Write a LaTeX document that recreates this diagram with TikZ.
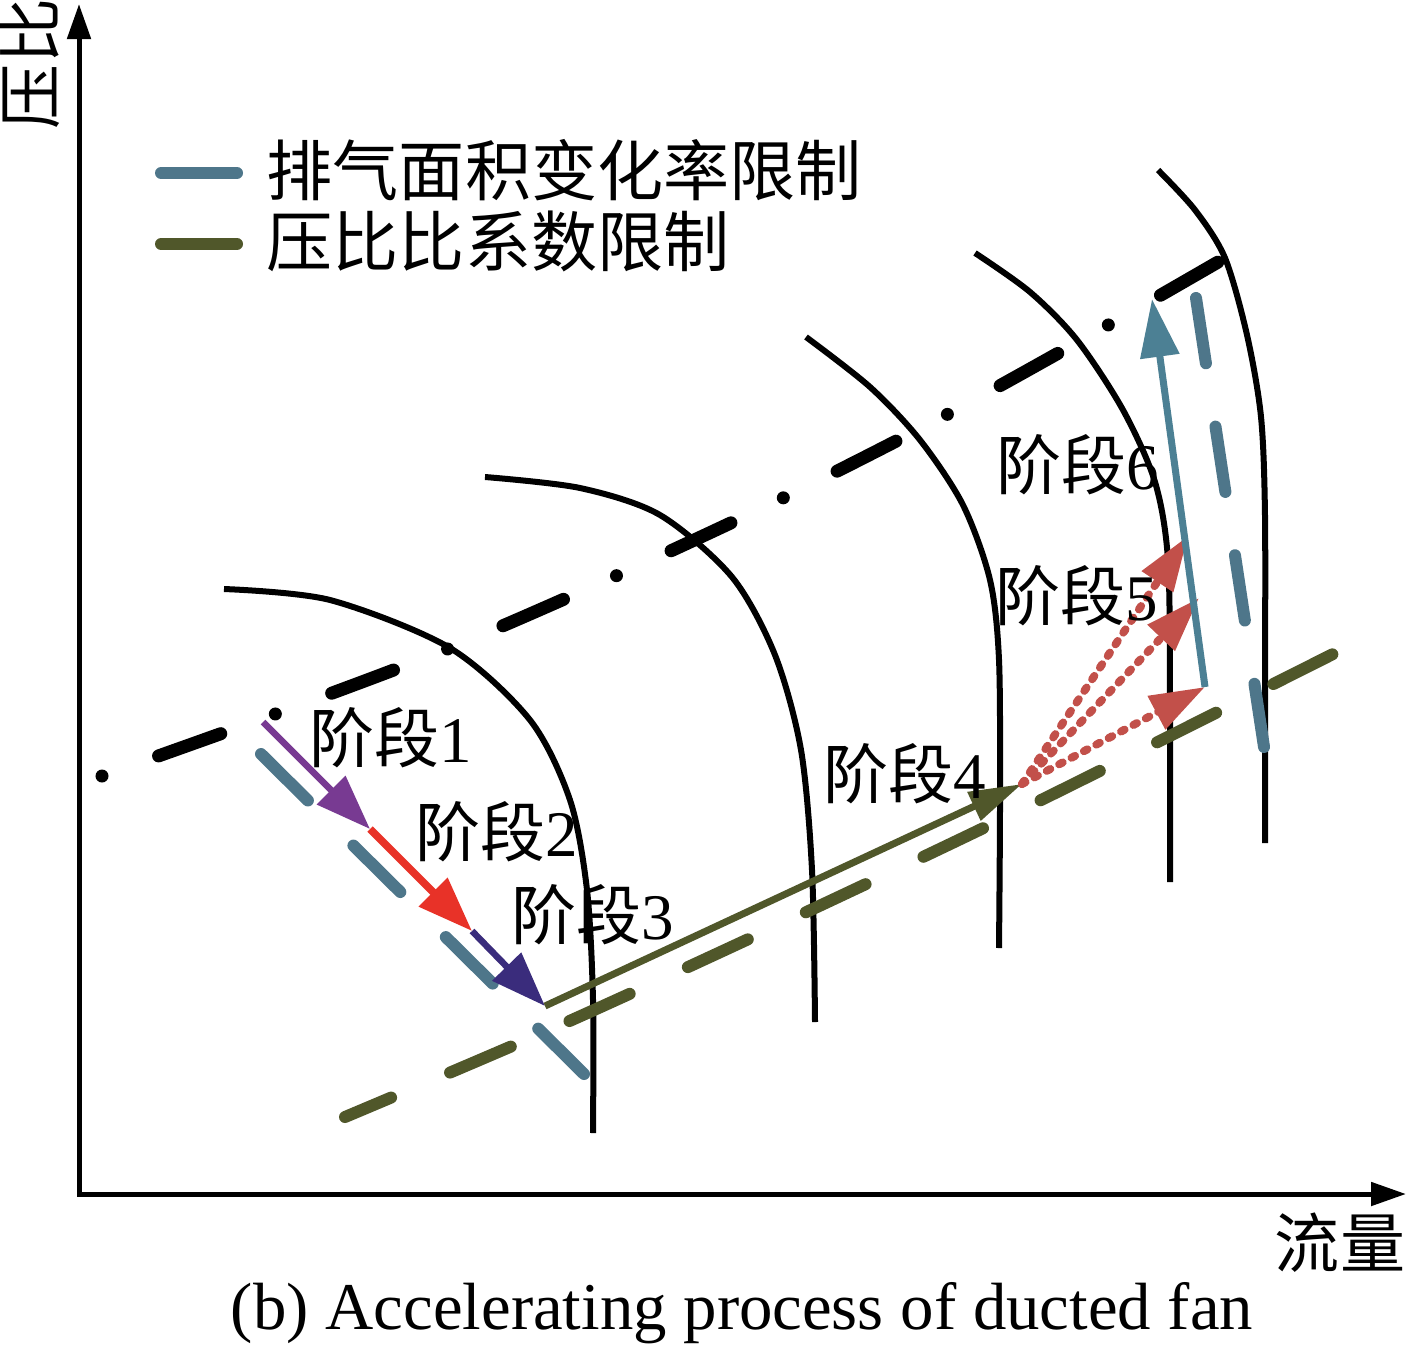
\documentclass[tikz,border=0pt]{standalone}
\usepackage{fontspec}
\setmainfont{Liberation Serif}
\newfontfamily\cjk{Noto Sans CJK SC}
\usepackage{tikz}
\usetikzlibrary{arrows.meta}

\definecolor{areablue}{RGB}{78,118,138}
\definecolor{arrowblue}{RGB}{76,128,148}
\definecolor{ratioolive}{RGB}{80,87,42}
\definecolor{stagepurple}{RGB}{120,58,146}
\definecolor{stagered}{RGB}{232,50,40}
\definecolor{stageindigo}{RGB}{58,44,124}
\definecolor{stagebrick}{RGB}{194,80,74}

\begin{document}
\begin{tikzpicture}[x=0.01cm, y=-0.01cm, >={Triangle[length=0.35cm,width=0.23cm]},
  font=\fontsize{18.5}{20}\selectfont]
  \useasboundingbox (0,0) rectangle (1410,1349);

  \tikzset{axis/.style={line width=0.05cm, <->}}
  \tikzset{speedline/.style={line width=0.06cm, black}}
  \tikzset{workline/.style={line width=0.13cm, black, line cap=round,
      dash pattern=on 0cm off 0.60cm on 0.66cm off 0.58cm}}
  \tikzset{limitline/.style={line width=0.12cm, line cap=round,
      dash pattern=on 0.66cm off 0.64cm}}
  \tikzset{legline/.style={line width=0.12cm, line cap=round}}
  \tikzset{stagearrow/.style={line width=0.065cm, -{Triangle[length=0.55cm,width=0.39cm]}}}
  \tikzset{dotarrow/.style={line width=0.08cm, stagebrick, line cap=round,
      dash pattern=on 0.04cm off 0.10cm, -{Triangle[length=0.55cm,width=0.36cm]}}}
  \tikzset{lbl/.style={inner sep=0pt}}

  % axes
  \coordinate (O) at (79,1194);
  \coordinate (ytop) at (79,4);
  \coordinate (xend) at (1406,1194);
  \draw[axis] (ytop) -- (O) -- (xend);
  \node[lbl, rotate=90] (ylab) at (30,64) {\cjk 压比};
  \node[lbl] (xlab) at (1340,1243) {\cjk 流量};

  % legend
  \node[lbl, anchor=west, font=\fontsize{18.8}{20}\selectfont] (leg1) at (266,170) {\cjk 排气面积变化率限制};
  \node[lbl, anchor=west, font=\fontsize{18.8}{20}\selectfont] (leg2) at (266,241) {\cjk 压比比系数限制};
  \draw[legline, areablue] (161,173) -- (237,173);
  \draw[legline, ratioolive] (161,244) -- (237,244);

  % speed lines
  \draw[speedline] plot[smooth] coordinates {(224,589) (330,600) (450,648)
    (530,720) (570,800) (587,890) (593,1000) (593,1133)};
  \draw[speedline] plot[smooth] coordinates {(485,477) (580,488) (660,515)
    (732,577) (775,655) (801,750) (812,870) (815,1022)};
  \draw[speedline] plot[smooth] coordinates {(806,337) (870,387) (920,440)
    (963,505) (990,580) (999,660) (1000,800) (999,948)};
  \draw[speedline] plot[smooth] coordinates {(975,253) (1030,292) (1077,340)
    (1123,410) (1155,482) (1168,560) (1170,700) (1170,882)};
  \draw[speedline] plot[smooth] coordinates {(1158,170) (1195,210)
    (1225,258) (1247,335) (1261,417) (1265,517) (1265,700) (1265,843)};

  % working line
  \draw[workline] plot[smooth] coordinates {(102,776) (278,713) (450,648)
    (618,575) (785,497) (948,414) (1110,324) (1225,258)};

  % limits
  \draw[limitline, areablue] (261,754) -- (584,1074);
  \draw[limitline, areablue] (1196,298) -- (1264,747);
  \draw[limitline, ratioolive, dash phase=0.16cm] plot[smooth] coordinates
    {(345,1117) (565,1023) (800,915) (1035,803) (1333,654)};

  % stages
  \coordinate (a0) at (263,722);
  \coordinate (a1) at (370,829);
  \coordinate (a2) at (472,931);
  \coordinate (a3) at (545,1006);
  \coordinate (a4) at (1022,784);
  \coordinate (a5a) at (1188,536);
  \coordinate (a5b) at (1199,598);
  \coordinate (a5c) at (1205,687);
  \coordinate (a6) at (1152,299);

  \draw[stagearrow, stagepurple] (a0) -- (a1);
  \draw[stagearrow, stagered, line width=0.075cm] (a1) -- (a2);
  \draw[stagearrow, stageindigo] (a2) -- (a3);
  \draw[stagearrow, ratioolive, line width=0.07cm,
    -{Triangle[length=0.53cm,width=0.30cm]}] (a3) -- (a4);
  \draw[dotarrow] (a4) -- (a5a);
  \draw[dotarrow] (a4) -- (a5b);
  \draw[dotarrow] (a4) -- (a5c);
  \draw[stagearrow, arrowblue, line width=0.07cm,
    -{Triangle[length=0.58cm,width=0.38cm]}] (a5c) -- (a6);

  \node[lbl] (s1) at (391,738) {{\cjk 阶段}1};
  \node[lbl] (s2) at (497,832) {{\cjk 阶段}2};
  \node[lbl] (s3) at (593,915) {{\cjk 阶段}3};
  \node[lbl] (s4) at (905,774) {{\cjk 阶段}4};
  \node[lbl] (s5) at (1077,596) {{\cjk 阶段}5};
  \node[lbl] (s6) at (1078,465) {{\cjk 阶段}6};

  \node[lbl, font=\fontsize{19}{22}\selectfont] (cap) at (742,1313)
    {(b) Accelerating process of ducted fan};
\end{tikzpicture}
\end{document}
